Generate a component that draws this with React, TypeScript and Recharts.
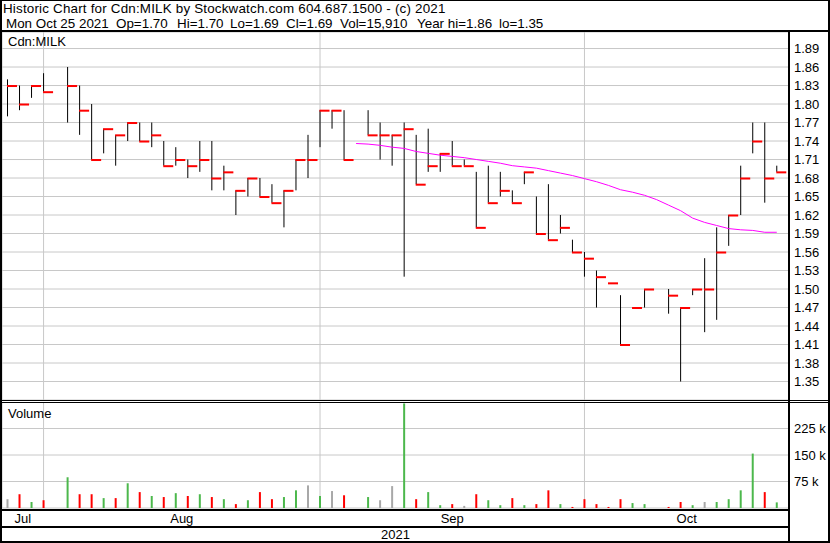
import {
  ComposedChart,
  Scatter,
  ErrorBar,
  Line,
  Bar,
  Cell,
  XAxis,
  YAxis,
  CartesianGrid,
} from 'recharts';

// one slot per weekday, Tue 27 Jul 2021 .. Mon 25 Oct 2021 (null = holiday, no trading)
const high = [
  1.84, 1.83, 1.83, 1.85, null, 1.86, 1.83, 1.80, 1.76, 1.75,
  1.77, 1.77, 1.77, 1.74, 1.73, 1.71, 1.74, 1.74, 1.70, 1.66,
  1.68, 1.68, 1.67, 1.66, 1.71, 1.75, 1.79, 1.79, 1.79, null,
  1.79, 1.77, 1.75, 1.77, 1.75, 1.76, 1.72, 1.74, 1.71, 1.69,
  1.70, 1.69, 1.66, 1.69, 1.65, 1.67, 1.62, 1.58, 1.56, 1.53,
  1.51, 1.49, 1.47, 1.50, null, 1.50, 1.47, 1.50, 1.55, 1.60,
  1.62, 1.70, 1.77, 1.77, 1.70,
];
const low = [
  1.78, 1.79, 1.81, 1.82, null, 1.77, 1.75, 1.71, 1.72, 1.70,
  1.74, 1.74, 1.73, 1.70, 1.70, 1.68, 1.69, 1.66, 1.66, 1.62,
  1.65, 1.65, 1.64, 1.60, 1.66, 1.68, 1.73, 1.76, 1.71, null,
  1.75, 1.71, 1.70, 1.52, 1.67, 1.69, 1.69, 1.70, 1.70, 1.60,
  1.64, 1.65, 1.64, 1.67, 1.59, 1.58, 1.59, 1.56, 1.52, 1.47,
  1.51, 1.41, 1.47, 1.47, null, 1.46, 1.35, 1.49, 1.43, 1.45,
  1.57, 1.62, 1.72, 1.64, 1.69,
];
const close = [
  1.83, 1.80, 1.83, 1.82, null, 1.83, 1.79, 1.71, 1.76, 1.75,
  1.77, 1.74, 1.75, 1.70, 1.71, 1.70, 1.71, 1.68, 1.69, 1.66,
  1.68, 1.65, 1.64, 1.66, 1.71, 1.71, 1.79, 1.79, 1.71, null,
  1.75, 1.75, 1.75, 1.76, 1.67, 1.70, 1.72, 1.70, 1.70, 1.60,
  1.64, 1.66, 1.64, 1.69, 1.59, 1.58, 1.60, 1.56, 1.55, 1.52,
  1.51, 1.41, 1.47, 1.50, null, 1.49, 1.47, 1.50, 1.50, 1.56,
  1.62, 1.68, 1.74, 1.68, 1.69,
];
const volume = [
  25000, 39000, 17000, 22000, null, 87000, 39000, 39000, 28000, 28000,
  70000, 45000, 34000, 31000, 42000, 34000, 39000, 31000, 25000, 11000,
  22000, 45000, 25000, 31000, 50000, 64000, 34000, 48000, 36000, null,
  31000, 22000, 62000, 296000, 25000, 45000, 8000, 11000, 6000, 39000,
  22000, 8000, 28000, 8000, 11000, 50000, 11000, 3000, 25000, 11000,
  3000, 25000, 14000, 11000, null, 3000, 17000, 8000, 17000, 17000,
  25000, 50000, 154000, 45000, 15910,
];
// u = closed up, d = closed down, n = unchanged
const volDir = [
  'n', 'd', 'u', 'd', null, 'u', 'd', 'd', 'u', 'd',
  'u', 'd', 'u', 'd', 'u', 'd', 'u', 'd', 'u', 'd',
  'u', 'd', 'd', 'u', 'u', 'n', 'u', 'n', 'd', null,
  'u', 'n', 'n', 'u', 'd', 'u', 'u', 'd', 'n', 'd',
  'u', 'u', 'd', 'u', 'd', 'd', 'u', 'd', 'd', 'd',
  'd', 'd', 'u', 'u', null, 'd', 'd', 'u', 'n', 'u',
  'u', 'u', 'u', 'd', 'u',
];
// moving average, starts at slot 29
const maStart = 29;
const movingAvg = [
  1.736, 1.735, 1.733, 1.730, 1.728, 1.723, 1.720, 1.717, 1.715, 1.713,
  1.710, 1.707, 1.704, 1.700, 1.698, 1.696, 1.692, 1.688, 1.684, 1.679,
  1.674, 1.668, 1.661, 1.657, 1.652, 1.645, 1.636, 1.627, 1.615, 1.608,
  1.603, 1.598, 1.596, 1.595, 1.592, 1.592,
];

const months = ['Jul', 'Aug', 'Sep', 'Oct'];
const monthStarts = [3, 26, 48];
const priceTicks = [
  1.35, 1.38, 1.41, 1.44, 1.47, 1.5, 1.53, 1.56, 1.59, 1.62,
  1.65, 1.68, 1.71, 1.74, 1.77, 1.8, 1.83, 1.86, 1.89,
];
const volumeTicks = [75000, 150000, 225000];

const X_MIN = -0.458;
const X_MAX = 65.017;
const FONT = '"Liberation Sans", Arial, sans-serif';
const GRID = '#c8c8c8';
const DIR_COLORS: Record<string, string> = { u: '#4cb84c', d: '#ff0000', n: '#a8a8a8' };

const priceRows = close
  .map((c, i) => ({ i, close: c, high: high[i], low: low[i] }))
  .filter((r) => r.close != null)
  .map((r) => ({ ...r, range: [r.close! - r.low!, r.high! - r.close!] }));

const maRows = movingAvg.map((ma, k) => ({ i: maStart + k, ma }));

const volRows = volume.map((vol, i) => ({ i, vol, dir: volDir[i] }));

const bounds = [X_MIN, ...monthStarts, X_MAX];
const monthCentres = months.map((_, k) => (bounds[k] + bounds[k + 1]) / 2);

const CloseTick = (props: any) => {
  const { cx, cy } = props;
  if (cx == null || cy == null) return <g />;
  return <rect x={cx - 0.5} y={cy - 0.5} width={10} height={2} fill="#ff0000" />;
};

const tickStyle = { fontSize: 13, fill: '#000', fontFamily: FONT };

const hLine = (left: number, top: number, width: number, height: number) => (
  <div style={{ position: 'absolute', left, top, width, height, background: '#000' }} />
);

const label = (text: string, left: number, top: number, size = 13, spacing = 0) => (
  <div
    style={{
      position: 'absolute',
      left,
      top,
      fontSize: size,
      lineHeight: '15px',
      whiteSpace: 'pre',
      letterSpacing: spacing,
    }}
  >
    {text}
  </div>
);

export default function App() {
  return (
    <div
      style={{
        position: 'absolute',
        left: 0,
        top: 0,
        width: 830,
        height: 543,
        background: '#fff',
        fontFamily: FONT,
        color: '#000',
        overflow: 'hidden',
      }}
    >
      {label('Historic Chart for Cdn:MILK by Stockwatch.com 604.687.1500 - (c) 2021', 3, 1, 13.4, 0.19)}
      {label('Mon Oct 25 2021', 6, 15.7, 13.4)}
      {label('Op=1.70', 116, 15.7, 13.4)}
      {label('Hi=1.70', 177, 15.7, 13.4)}
      {label('Lo=1.69', 230, 15.7, 13.4)}
      {label('Cl=1.69', 286, 15.7, 13.4)}
      {label('Vol=15,910', 340, 15.7, 13.4)}
      {label('Year hi=1.86', 417, 15.7, 13.4)}
      {label('lo=1.35', 499, 15.7, 13.4)}

      <div style={{ position: 'absolute', left: 2, top: 32 }}>
        <ComposedChart width={827} height={368} margin={{ top: 0, right: 0, bottom: 0, left: 0 }}>
          <CartesianGrid stroke={GRID} />
          <XAxis
            type="number"
            dataKey="i"
            domain={[X_MIN, X_MAX]}
            ticks={monthStarts}
            allowDataOverflow
            height={0}
            hide
          />
          <YAxis
            type="number"
            orientation="right"
            width={40}
            domain={[1.32, 1.9168]}
            allowDataOverflow
            ticks={priceTicks}
            interval={0}
            axisLine={false}
            tickLine={false}
            tickSize={5}
            tickMargin={0}
            tick={tickStyle}
            tickFormatter={(v: number) => v.toFixed(2)}
          />
          <Scatter data={priceRows} dataKey="close" shape={CloseTick} isAnimationActive={false}>
            <ErrorBar
              dataKey="range"
              direction="y"
              width={0}
              stroke="#000"
              strokeWidth={1}
              isAnimationActive={false}
            />
          </Scatter>
          <Line
            data={maRows}
            dataKey="ma"
            stroke="#ff00ff"
            strokeWidth={1}
            dot={false}
            activeDot={false}
            isAnimationActive={false}
          />
        </ComposedChart>
      </div>

      <div style={{ position: 'absolute', left: 2, top: 402 }}>
        <ComposedChart
          width={827}
          height={124}
          data={volRows}
          margin={{ top: 0, right: 0, bottom: 0, left: 0 }}
        >
          <CartesianGrid stroke={GRID} />
          <XAxis
            xAxisId="month"
            type="number"
            dataKey="i"
            domain={[X_MIN, X_MAX]}
            allowDataOverflow
            ticks={monthCentres}
            interval={0}
            height={18}
            axisLine={false}
            tickLine={false}
            tickSize={6}
            tickMargin={0}
            tick={tickStyle}
            tickFormatter={(v: number) => months[monthCentres.indexOf(v)] ?? ''}
          />
          <XAxis
            type="number"
            dataKey="i"
            domain={[X_MIN, X_MAX]}
            ticks={monthStarts}
            allowDataOverflow
            height={0}
            hide
          />
          <YAxis
            type="number"
            orientation="right"
            width={40}
            domain={[0, 300000]}
            allowDataOverflow
            ticks={volumeTicks}
            interval={0}
            axisLine={false}
            tickLine={false}
            tickSize={5}
            tickMargin={0}
            tick={tickStyle}
            tickFormatter={(v: number) => `${v / 1000} k`}
          />
          <Bar dataKey="vol" barSize={2} isAnimationActive={false}>
            {volRows.map((r) => (
              <Cell key={r.i} fill={r.dir ? DIR_COLORS[r.dir] : 'none'} />
            ))}
          </Bar>
        </ComposedChart>
      </div>

      {label('Cdn:MILK', 8, 33.7)}
      {label('Volume', 8, 405.7)}
      <div
        style={{
          position: 'absolute',
          left: 2,
          top: 527,
          width: 787,
          textAlign: 'center',
          fontSize: 13,
          lineHeight: '15px',
        }}
      >
        2021
      </div>

      {hLine(0, 0, 830, 1)}
      {hLine(0, 0, 2, 543)}
      {hLine(828, 0, 2, 543)}
      {hLine(0, 541, 830, 2)}
      {hLine(0, 30, 830, 2)}
      {hLine(788, 30, 2, 513)}
      {hLine(0, 400, 830, 1)}
      {hLine(0, 402, 830, 1)}
      {hLine(0, 509, 789, 2)}
      {hLine(0, 526, 789, 2)}
    </div>
  );
}
